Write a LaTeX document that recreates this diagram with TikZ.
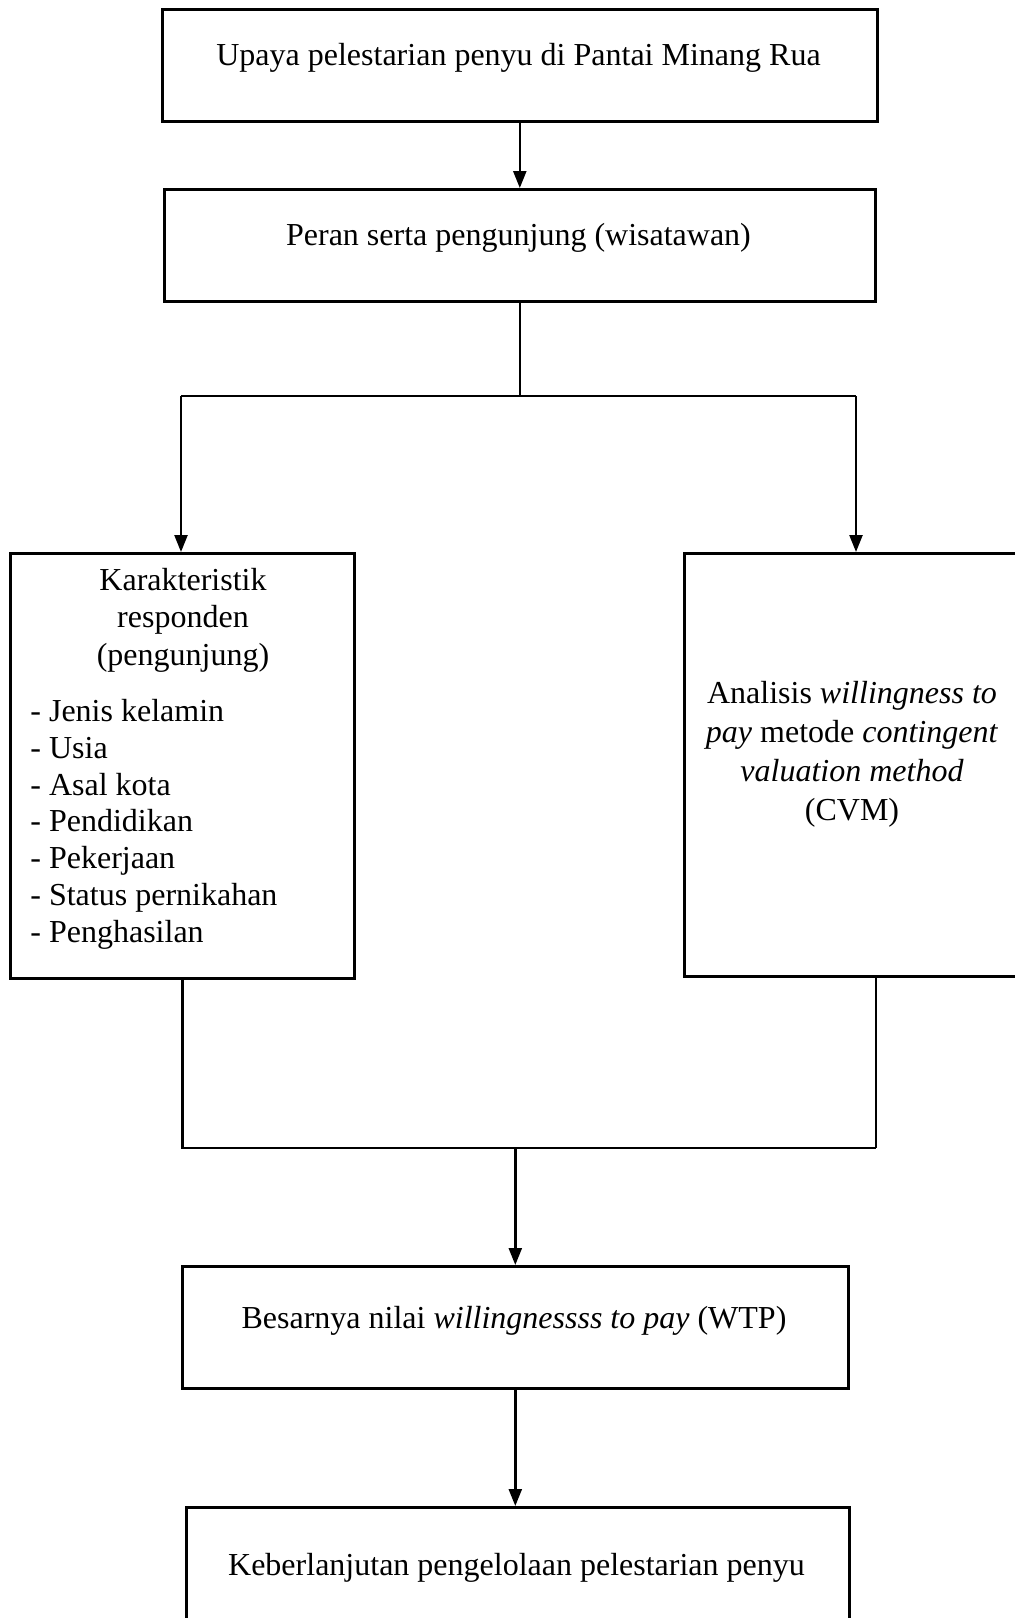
\documentclass[tikz,border=0pt]{standalone}
\usepackage{fontspec}
\setmainfont{Liberation Serif}
\usetikzlibrary{arrows.meta}

\begin{document}
\begin{tikzpicture}[
            x=0.5pt, y=-0.5pt,
            box/.style={draw, line width=1.3pt, inner sep=0pt, anchor=north west},
            txt/.style={inner sep=0pt, font=\fontsize{16}{18.5}\selectfont},
            link/.style={line width=1.2pt},
            bar/.style={line width=1.4pt},
            arrow/.style={link, -{Triangle[length=8.5pt,width=6.5pt]}}
        ]
        \useasboundingbox (0,0) rectangle (1014,1618);

        % --- Boxes ---
        \node[box, minimum width=357.5pt, minimum height=56pt] (upaya) at (161,8) {};
        \node[box, minimum width=355.5pt, minimum height=56pt] (peran) at (163,188) {};
        \node[box, minimum width=172pt, minimum height=212.5pt] (karak) at (9,552) {};
        \node[box, minimum width=169pt, minimum height=211.5pt] (analisis) at (683,552) {};
        \node[box, minimum width=333pt, minimum height=61pt] (wtp) at (181,1265) {};
        \node[box, minimum width=331.5pt, minimum height=77pt] (lanjut) at (185,1506) {};

        % --- Texts (base = last line) ---
        \node[txt, anchor=base] (upayaT) at (518.5,65) {Upaya pelestarian penyu di Pantai Minang Rua};
        \node[txt, anchor=base] (peranT) at (518.5,245) {Peran serta pengunjung (wisatawan)};
        \node[txt, anchor=base, align=center, font=\fontsize{16}{18.75}\selectfont]
            (karakT) at (183,665) {Karakteristik\\responden\\(pengunjung)};
        \node[txt, anchor=base west, align=left, font=\fontsize{16}{18.35}\selectfont]
            (karakL) at (30,942) {- Jenis kelamin\\- Usia\\- Asal kota\\- Pendidikan\\- Pekerjaan\\- Status pernikahan\\- Penghasilan};
        \node[txt, anchor=base, align=center, font=\fontsize{16}{19.5}\selectfont]
            (analisisT) at (852,820) {Analisis \textit{willingness to}\\\textit{pay} metode \textit{contingent}\\\textit{valuation method}\\(CVM)};
        \node[txt, anchor=base] (wtpT) at (514,1328) {Besarnya nilai \textit{willingnessss to pay} (WTP)};
        \node[txt, anchor=base] (lanjutT) at (516.5,1575) {Keberlanjutan pengelolaan pelestarian penyu};

        % --- Branch points ---
        \coordinate (splitL) at (181,396);
        \coordinate (splitR) at (856,396);
        \coordinate (joinL) at (181,1148);
        \coordinate (joinR) at (876,1148);

        % --- Connectors ---
        \draw[arrow] (upaya.south) -- (peran.north);
        \draw[link] (peran.south) -- (peran.south |- splitL);
        \draw[bar] (splitL) -- (splitR);
        \draw[arrow] (splitL) -- (splitL |- karak.north);
        \draw[arrow] (splitR) -- (splitR |- analisis.north);
        \draw[link] (karak.south) -- (karak.south |- joinL);
        \draw[link] (joinR |- analisis.south) -- (joinR);
        \draw[bar] (joinL) -- (joinR);
        \draw[arrow] (wtp.north |- joinL) -- (wtp.north);
        \draw[arrow] (wtp.south) -- (wtp.south |- lanjut.north);
        \end{tikzpicture}
\end{document}
